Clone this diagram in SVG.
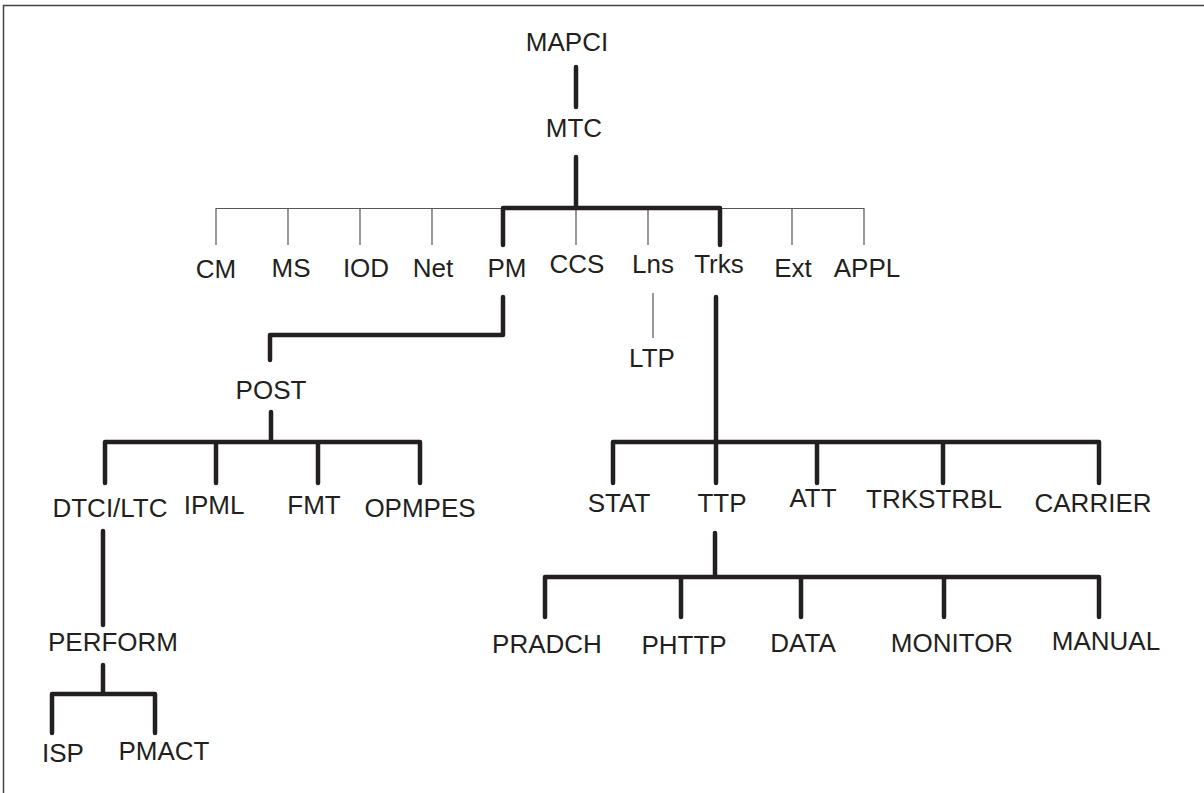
<svg xmlns="http://www.w3.org/2000/svg" width="1204" height="793" viewBox="0 0 1204 793">
<style>
text{font-family:"Liberation Sans",Arial,sans-serif;font-size:26px;fill:#231f20;text-anchor:middle}
.k{stroke:#231f20;stroke-width:4.5;fill:none;stroke-linecap:round;stroke-linejoin:round}
.t{stroke:#555;stroke-width:1.2;fill:none}
</style>
<rect width="1204" height="793" fill="#fff"/>
<path d="M3.5,793 V5.5 H1204" fill="none" stroke="#444" stroke-width="1.5"/>
<g id="connectors">
<path class="t" d="M216,208.5 H503 M720,208.5 H864 M216,208 V245 M288,208 V245 M360,208 V245 M432,208 V245 M576,208 V245 M648,208 V245 M792,208 V245 M864,208 V245 M653,293 V338"/>
<path class="k" d="M576,67 V107 M576,157 V208 M503,245 V208 H720 V245"/>
<path class="k" d="M503,297 V335 H270 V360"/>
<path class="k" d="M271,412 V442 M105,483 V442 H420 V483 M216,442 V483 M318,442 V483"/>
<path class="k" d="M103,531 V625 M103,665 V694 M52,733 V694 H155 V733"/>
<path class="k" d="M716,297 V483 M613,483 V442 H1099 V483 M817,442 V483 M943,442 V483"/>
<path class="k" d="M715,533 V577 M545,617 V577 H1099 V617 M681,577 V617 M801,577 V617 M944,577 V617"/>
</g>
<g id="n-mapci"><text x="567" y="51">MAPCI</text></g>
<g id="n-mtc"><text x="574" y="137">MTC</text></g>
<g id="n-cm"><text x="216" y="278">CM</text></g>
<g id="n-ms"><text x="291" y="277">MS</text></g>
<g id="n-iod"><text x="366" y="277">IOD</text></g>
<g id="n-net"><text x="433" y="277">Net</text></g>
<g id="n-pm"><text x="507" y="277">PM</text></g>
<g id="n-ccs"><text x="577" y="273">CCS</text></g>
<g id="n-lns"><text x="653" y="273">Lns</text></g>
<g id="n-trks"><text x="719" y="273">Trks</text></g>
<g id="n-ext"><text x="793" y="277">Ext</text></g>
<g id="n-appl"><text x="867" y="277">APPL</text></g>
<g id="n-ltp"><text x="652" y="367">LTP</text></g>
<g id="n-post"><text x="271" y="399">POST</text></g>
<g id="n-dtci"><text x="110" y="517">DTCI/LTC</text></g>
<g id="n-ipml"><text x="214" y="514">IPML</text></g>
<g id="n-fmt"><text x="314" y="514">FMT</text></g>
<g id="n-opmpes"><text x="420" y="517">OPMPES</text></g>
<g id="n-perform"><text x="113" y="651">PERFORM</text></g>
<g id="n-isp"><text x="63" y="762">ISP</text></g>
<g id="n-pmact"><text x="164" y="760">PMACT</text></g>
<g id="n-stat"><text x="619" y="512">STAT</text></g>
<g id="n-ttp"><text x="722" y="512">TTP</text></g>
<g id="n-att"><text x="813" y="507">ATT</text></g>
<g id="n-trkstrbl"><text x="934" y="508">TRKSTRBL</text></g>
<g id="n-carrier"><text x="1093" y="512">CARRIER</text></g>
<g id="n-pradch"><text x="547" y="653">PRADCH</text></g>
<g id="n-phttp"><text x="684" y="654">PHTTP</text></g>
<g id="n-data"><text x="803" y="652">DATA</text></g>
<g id="n-monitor"><text x="952" y="652">MONITOR</text></g>
<g id="n-manual"><text x="1106" y="650">MANUAL</text></g>
</svg>
